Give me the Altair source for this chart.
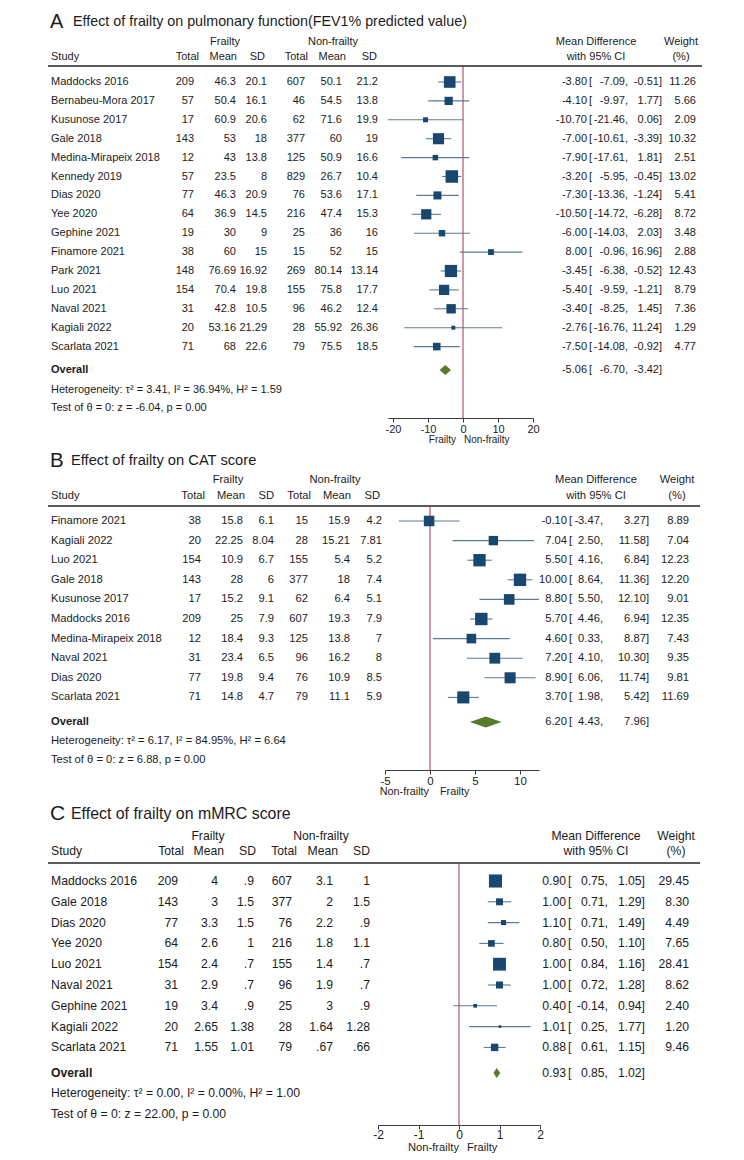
import altair as alt
import pandas as pd

# ---------------- data ----------------
# Panel A: FEV1% predicted
study_a = ["Maddocks 2016", "Bernabeu-Mora 2017", "Kusunose 2017", "Gale 2018",
           "Medina-Mirapeix 2018", "Kennedy 2019", "Dias 2020", "Yee 2020",
           "Gephine 2021", "Finamore 2021", "Park 2021", "Luo 2021", "Naval 2021",
           "Kagiali 2022", "Scarlata 2021"]
fr_total_a = [209, 57, 17, 143, 12, 57, 77, 64, 19, 38, 148, 154, 31, 20, 71]
fr_mean_a = [46.3, 50.4, 60.9, 53, 43, 23.5, 46.3, 36.9, 30, 60, 76.69, 70.4, 42.8, 53.16, 68]
fr_sd_a = [20.1, 16.1, 20.6, 18, 13.8, 8, 20.9, 14.5, 9, 15, 16.92, 19.8, 10.5, 21.29, 22.6]
nf_total_a = [607, 46, 62, 377, 125, 829, 76, 216, 25, 15, 269, 155, 96, 28, 79]
nf_mean_a = [50.1, 54.5, 71.6, 60, 50.9, 26.7, 53.6, 47.4, 36, 52, 80.14, 75.8, 46.2, 55.92, 75.5]
nf_sd_a = [21.2, 13.8, 19.9, 19, 16.6, 10.4, 17.1, 15.3, 16, 15, 13.14, 17.7, 12.4, 26.36, 18.5]
md_a = [-3.80, -4.10, -10.70, -7.00, -7.90, -3.20, -7.30, -10.50, -6.00, 8.00, -3.45, -5.40, -3.40, -2.76, -7.50]
lo_a = [-7.09, -9.97, -21.46, -10.61, -17.61, -5.95, -13.36, -14.72, -14.03, -0.96, -6.38, -9.59, -8.25, -16.76, -14.08]
hi_a = [-0.51, 1.77, 0.06, -3.39, 1.81, -0.45, -1.24, -6.28, 2.03, 16.96, -0.52, -1.21, 1.45, 11.24, -0.92]
wt_a = [11.26, 5.66, 2.09, 10.32, 2.51, 13.02, 5.41, 8.72, 3.48, 2.88, 12.43, 8.79, 7.36, 1.29, 4.77]
overall_a = [-5.06, -6.70, -3.42]
het_a = "Heterogeneity: \u03c4\u00b2 = 3.41, I\u00b2 = 36.94%, H\u00b2 = 1.59"
test_a = "Test of \u03b8 = 0: z = -6.04, p = 0.00"
ticks_a = [-20, -10, 0, 10, 20]
xdomain_a = [-21.46, 20]

# Panel B: CAT score
study_b = ["Finamore 2021", "Kagiali 2022", "Luo 2021", "Gale 2018", "Kusunose 2017",
           "Maddocks 2016", "Medina-Mirapeix 2018", "Naval 2021", "Dias 2020", "Scarlata 2021"]
fr_total_b = [38, 20, 154, 143, 17, 209, 12, 31, 77, 71]
fr_mean_b = [15.8, 22.25, 10.9, 28, 15.2, 25, 18.4, 23.4, 19.8, 14.8]
fr_sd_b = [6.1, 8.04, 6.7, 6, 9.1, 7.9, 9.3, 6.5, 9.4, 4.7]
nf_total_b = [15, 28, 155, 377, 62, 607, 125, 96, 76, 79]
nf_mean_b = [15.9, 15.21, 5.4, 18, 6.4, 19.3, 13.8, 16.2, 10.9, 11.1]
nf_sd_b = [4.2, 7.81, 5.2, 7.4, 5.1, 7.9, 7, 8, 8.5, 5.9]
md_b = [-0.10, 7.04, 5.50, 10.00, 8.80, 5.70, 4.60, 7.20, 8.90, 3.70]
lo_b = [-3.47, 2.50, 4.16, 8.64, 5.50, 4.46, 0.33, 4.10, 6.06, 1.98]
hi_b = [3.27, 11.58, 6.84, 11.36, 12.10, 6.94, 8.87, 10.30, 11.74, 5.42]
wt_b = [8.89, 7.04, 12.23, 12.20, 9.01, 12.35, 7.43, 9.35, 9.81, 11.69]
overall_b = [6.20, 4.43, 7.96]
het_b = "Heterogeneity: \u03c4\u00b2 = 6.17, I\u00b2 = 84.95%, H\u00b2 = 6.64"
test_b = "Test of \u03b8 = 0: z = 6.88, p = 0.00"
ticks_b = [-5, 0, 5, 10]
xdomain_b = [-5, 12.1]

# Panel C: mMRC score
study_c = ["Maddocks 2016", "Gale 2018", "Dias 2020", "Yee 2020", "Luo 2021",
           "Naval 2021", "Gephine 2021", "Kagiali 2022", "Scarlata 2021"]
fr_total_c = [209, 143, 77, 64, 154, 31, 19, 20, 71]
fr_mean_c = [4, 3, 3.3, 2.6, 2.4, 2.9, 3.4, 2.65, 1.55]
fr_sd_c = [0.9, 1.5, 1.5, 1, 0.7, 0.7, 0.9, 1.38, 1.01]
nf_total_c = [607, 377, 76, 216, 155, 96, 25, 28, 79]
nf_mean_c = [3.1, 2, 2.2, 1.8, 1.4, 1.9, 3, 1.64, 0.67]
nf_sd_c = [1, 1.5, 0.9, 1.1, 0.7, 0.7, 0.9, 1.28, 0.66]
md_c = [0.90, 1.00, 1.10, 0.80, 1.00, 1.00, 0.40, 1.01, 0.88]
lo_c = [0.75, 0.71, 0.71, 0.50, 0.84, 0.72, -0.14, 0.25, 0.61]
hi_c = [1.05, 1.29, 1.49, 1.10, 1.16, 1.28, 0.94, 1.77, 1.15]
wt_c = [29.45, 8.30, 4.49, 7.65, 28.41, 8.62, 2.40, 1.20, 9.46]
overall_c = [0.93, 0.85, 1.02]
het_c = "Heterogeneity: \u03c4\u00b2 = 0.00, I\u00b2 = 0.00%, H\u00b2 = 1.00"
test_c = "Test of \u03b8 = 0: z = 22.00, p = 0.00"
ticks_c = [-2, -1, 0, 1, 2]
xdomain_c = [-2, 2]

titles = ["Effect of frailty on pulmonary function(FEV1% predicted value)",
          "Effect of frailty on CAT score",
          "Effect of frailty on mMRC score"]
letters = ["A", "B", "C"]

# ---------------- styles / layout ----------------
FONT = "Liberation Sans"
TXT = "#1b1b1b"
AX = "#3a3a3a"
NAVY = "#1a476f"
CI_COL = "#5a7a98"
GREEN = "#587b2b"
RED = "#a2334f"
SEP = "#5a5a5a"
W = 728

LA = dict(top=8, H=410, y0=82, s=18.9, fs=11, title_y=22, letter_size=20, title_size=14.3, title_x=73,
          h1=42, h2=57, sep=66, sep_r=702, ov=370, het=390, test=408, sub=440, fr_c=225, nf_c=333,
          col_val=[194, 236, 267, 305, 342, 378], col_hdr=[199, 237, 265, 308, 346, 377],
          est_r=587, brk_l=589, lo_r=628, hi_r=662, wt_r=696, md_c=596, w_c=681,
          xrange=[387.9, 533], k=12, dia_half=5,
          sub_l=("Frailty", -7), sub_r=("Non-frailty", 1), tick_fs=11, sub_fs=10, label_pad=1)
LB = dict(top=418, H=352, y0=521, s=19.6, fs=11.2, title_y=461, letter_size=20.5, title_size=14.7, title_x=71,
          h1=480, h2=496, sep=506, sep_r=700, ov=722, het=741, test=760, sub=792, fr_c=228, nf_c=335,
          col_val=[201, 243, 274, 308, 350, 382], col_hdr=[205, 245, 274, 311, 351, 380],
          est_r=567, brk_l=569, lo_r=603, hi_r=649, wt_r=689, md_c=596, w_c=677,
          xrange=[385, 538.9], k=12.5, dia_half=5.5,
          sub_l=("Non-frailty", -1), sub_r=("Frailty", 10), tick_fs=11.5, sub_fs=10.8, label_pad=1)
LC = dict(top=770, H=355, y0=881, s=20.8, fs=12.2, title_y=814, letter_size=21, title_size=15.9, title_x=71,
          h1=836, h2=851, sep=863, sep_r=700, ov=1073, het=1093, test=1114, sub=1148, fr_c=208, nf_c=321,
          col_val=[178, 218, 254, 292, 333, 370], col_hdr=[184, 224, 256, 297, 338, 370],
          est_r=566, brk_l=568, lo_r=608, hi_r=645, wt_r=689, md_c=596, w_c=676,
          xrange=[378, 540], k=5.8, dia_half=5,
          sub_l=("Non-frailty", 0), sub_r=("Frailty", 8), tick_fs=12, sub_fs=11.2, label_pad=0)

DUMMY = pd.DataFrame({"k": [0]})


def fmt(v):
    v = float(v)
    if v.is_integer():
        return str(int(v))
    s = repr(v)
    if s.startswith("0."):
        s = s[1:]
    return s


def panel(L, letter, title, study, t1, m1, sd1, t2, m2, sd2, md, lo, hi, wt, overall, het, test, ticks, xdomain):
    top, H = L["top"], L["H"]
    y0, s = L["y0"], L["s"]
    n = len(study)
    fs = L["fs"]

    def X(px):
        return px - 8

    def Y(py):
        return py - top

    yscale = alt.Scale(domain=[0, n - 1], range=[Y(y0), Y(y0 + s * (n - 1))], nice=False, zero=False)
    xscale = alt.Scale(domain=xdomain, range=[X(L["xrange"][0]), X(L["xrange"][1])], nice=False, zero=False)
    xaxis = alt.Axis(values=ticks, title=None, grid=False, orient="bottom", domainColor=AX, domainWidth=1,
                     tickColor=AX, tickWidth=1, tickSize=4, labelFont=FONT, labelFontSize=L["tick_fs"],
                     labelColor=TXT, labelPadding=L["label_pad"], labelExpr="'' + datum.value",
                     labelOverlap=False, labelFlush=False)

    df = pd.DataFrame({
        "row": list(range(n)),
        "study": study,
        "t1": [fmt(v) for v in t1], "m1": [fmt(v) for v in m1], "sd1": [fmt(v) for v in sd1],
        "t2": [fmt(v) for v in t2], "m2": [fmt(v) for v in m2], "sd2": [fmt(v) for v in sd2],
        "md": md, "lo": lo, "hi": hi, "wt": wt,
        "md_s": [f"{v:.2f}" for v in md],
        "lo_s": [f"{v:.2f}," for v in lo],
        "hi_s": [f"{v:.2f}]" for v in hi],
        "wt_s": [f"{v:.2f}" for v in wt],
    })
    base = alt.Chart(df)
    yenc = alt.Y("row:Q", scale=yscale, axis=None)

    def label(text, x, y, align="left", size=None, bold=False):
        return alt.Chart(DUMMY).mark_text(
            text=text, align=align, baseline="middle", font=FONT, fontSize=size or fs,
            fontWeight="bold" if bold else "normal", color=TXT
        ).encode(x=alt.value(X(x)), y=alt.value(Y(y)))

    def col(field, x, align="right"):
        return base.mark_text(align=align, baseline="middle", font=FONT, fontSize=fs, color=TXT).encode(
            x=alt.value(X(x)), y=yenc, text=alt.Text(f"{field}:N"))

    layers = []
    # separator line under the header
    layers.append(alt.Chart(DUMMY).mark_rule(color=SEP, strokeWidth=2).encode(
        x=alt.value(X(48)), x2=alt.value(X(L["sep_r"])), y=alt.value(Y(L["sep"]))))
    # line of no effect
    layers.append(alt.Chart(DUMMY).mark_rule(color=RED, strokeWidth=1).encode(
        x=alt.XDatum(0, type="quantitative", scale=xscale, axis=xaxis),
        y=alt.value(Y(L["sep"])), y2=alt.value(H)))
    # confidence intervals
    layers.append(base.mark_rule(color=CI_COL, strokeWidth=1.1).encode(
        x=alt.X("lo:Q", scale=xscale, axis=xaxis), x2="hi:Q", y=yenc))
    # squares sized by weight
    maxw = max(wt)
    layers.append(base.mark_square(filled=True, color=NAVY, opacity=1).encode(
        x=alt.X("md:Q", scale=xscale, axis=xaxis), y=yenc,
        size=alt.Size("wt:Q", scale=alt.Scale(domain=[0, maxw], range=[0, L["k"] * maxw]), legend=None)))
    # overall diamond
    ovr = (L["ov"] - y0) / s
    hh = L["dia_half"] / s
    dd = pd.DataFrame({"x": [overall[1], overall[0], overall[2]],
                       "ya": [ovr, ovr - hh, ovr], "yb": [ovr, ovr + hh, ovr]})
    layers.append(alt.Chart(dd).mark_area(orient="vertical", color=GREEN, opacity=1).encode(
        x=alt.X("x:Q", scale=xscale, axis=xaxis), y=alt.Y("ya:Q", scale=yscale, axis=None), y2="yb:Q"))

    # titles
    layers.append(label(letter, 50, L["title_y"], size=L["letter_size"]))
    layers.append(label(title, L["title_x"], L["title_y"], size=L["title_size"]))
    # headers
    layers.append(label("Frailty", L["fr_c"], L["h1"], "center"))
    layers.append(label("Non-frailty", L["nf_c"], L["h1"], "center"))
    layers.append(label("Study", 51, L["h2"]))
    for name, x in zip(["Total", "Mean", "SD", "Total", "Mean", "SD"], L["col_hdr"]):
        layers.append(label(name, x, L["h2"], "right"))
    layers.append(label("Mean Difference", L["md_c"], L["h1"], "center"))
    layers.append(label("with 95% CI", L["md_c"], L["h2"], "center"))
    layers.append(label("Weight", L["w_c"], L["h1"], "center"))
    layers.append(label("(%)", L["w_c"], L["h2"], "center"))

    # table body
    layers.append(col("study", 51, "left"))
    for field, x in zip(["t1", "m1", "sd1", "t2", "m2", "sd2"], L["col_val"]):
        layers.append(col(field, x))
    layers.append(col("md_s", L["est_r"]))
    layers.append(base.mark_text(text="[", align="left", baseline="middle", font=FONT, fontSize=fs, color=TXT)
                  .encode(x=alt.value(X(L["brk_l"])), y=yenc))
    layers.append(col("lo_s", L["lo_r"]))
    layers.append(col("hi_s", L["hi_r"]))
    layers.append(col("wt_s", L["wt_r"]))

    # overall row
    layers.append(label("Overall", 51, L["ov"], bold=True))
    layers.append(label(f"{overall[0]:.2f}", L["est_r"], L["ov"], "right"))
    layers.append(label("[", L["brk_l"], L["ov"], "left"))
    layers.append(label(f"{overall[1]:.2f},", L["lo_r"], L["ov"], "right"))
    layers.append(label(f"{overall[2]:.2f}]", L["hi_r"], L["ov"], "right"))
    layers.append(label(het, 51, L["het"]))
    layers.append(label(test, 51, L["test"]))

    # favours labels under the axis
    for (txt, dx), al in [(L["sub_l"], "right"), (L["sub_r"], "left")]:
        layers.append(alt.Chart(DUMMY).mark_text(
            text=txt, align=al, dx=dx, baseline="middle", font=FONT, fontSize=L["sub_fs"], color=TXT
        ).encode(x=alt.XDatum(0, type="quantitative", scale=xscale, axis=xaxis), y=alt.value(Y(L["sub"]))))

    return alt.layer(*layers).properties(width=W, height=H)


pa = panel(LA, letters[0], titles[0], study_a, fr_total_a, fr_mean_a, fr_sd_a, nf_total_a, nf_mean_a, nf_sd_a,
           md_a, lo_a, hi_a, wt_a, overall_a, het_a, test_a, ticks_a, xdomain_a)
pb = panel(LB, letters[1], titles[1], study_b, fr_total_b, fr_mean_b, fr_sd_b, nf_total_b, nf_mean_b, nf_sd_b,
           md_b, lo_b, hi_b, wt_b, overall_b, het_b, test_b, ticks_b, xdomain_b)
pc = panel(LC, letters[2], titles[2], study_c, fr_total_c, fr_mean_c, fr_sd_c, nf_total_c, nf_mean_c, nf_sd_c,
           md_c, lo_c, hi_c, wt_c, overall_c, het_c, test_c, ticks_c, xdomain_c)

chart = alt.vconcat(pa, pb, pc, spacing=0, bounds="flush").resolve_scale(
    x="independent", y="independent", size="independent"
).properties(padding=0, background="white").configure_view(stroke=None)

chart.save("out.html", embed_options={"renderer": "svg", "actions": False})
